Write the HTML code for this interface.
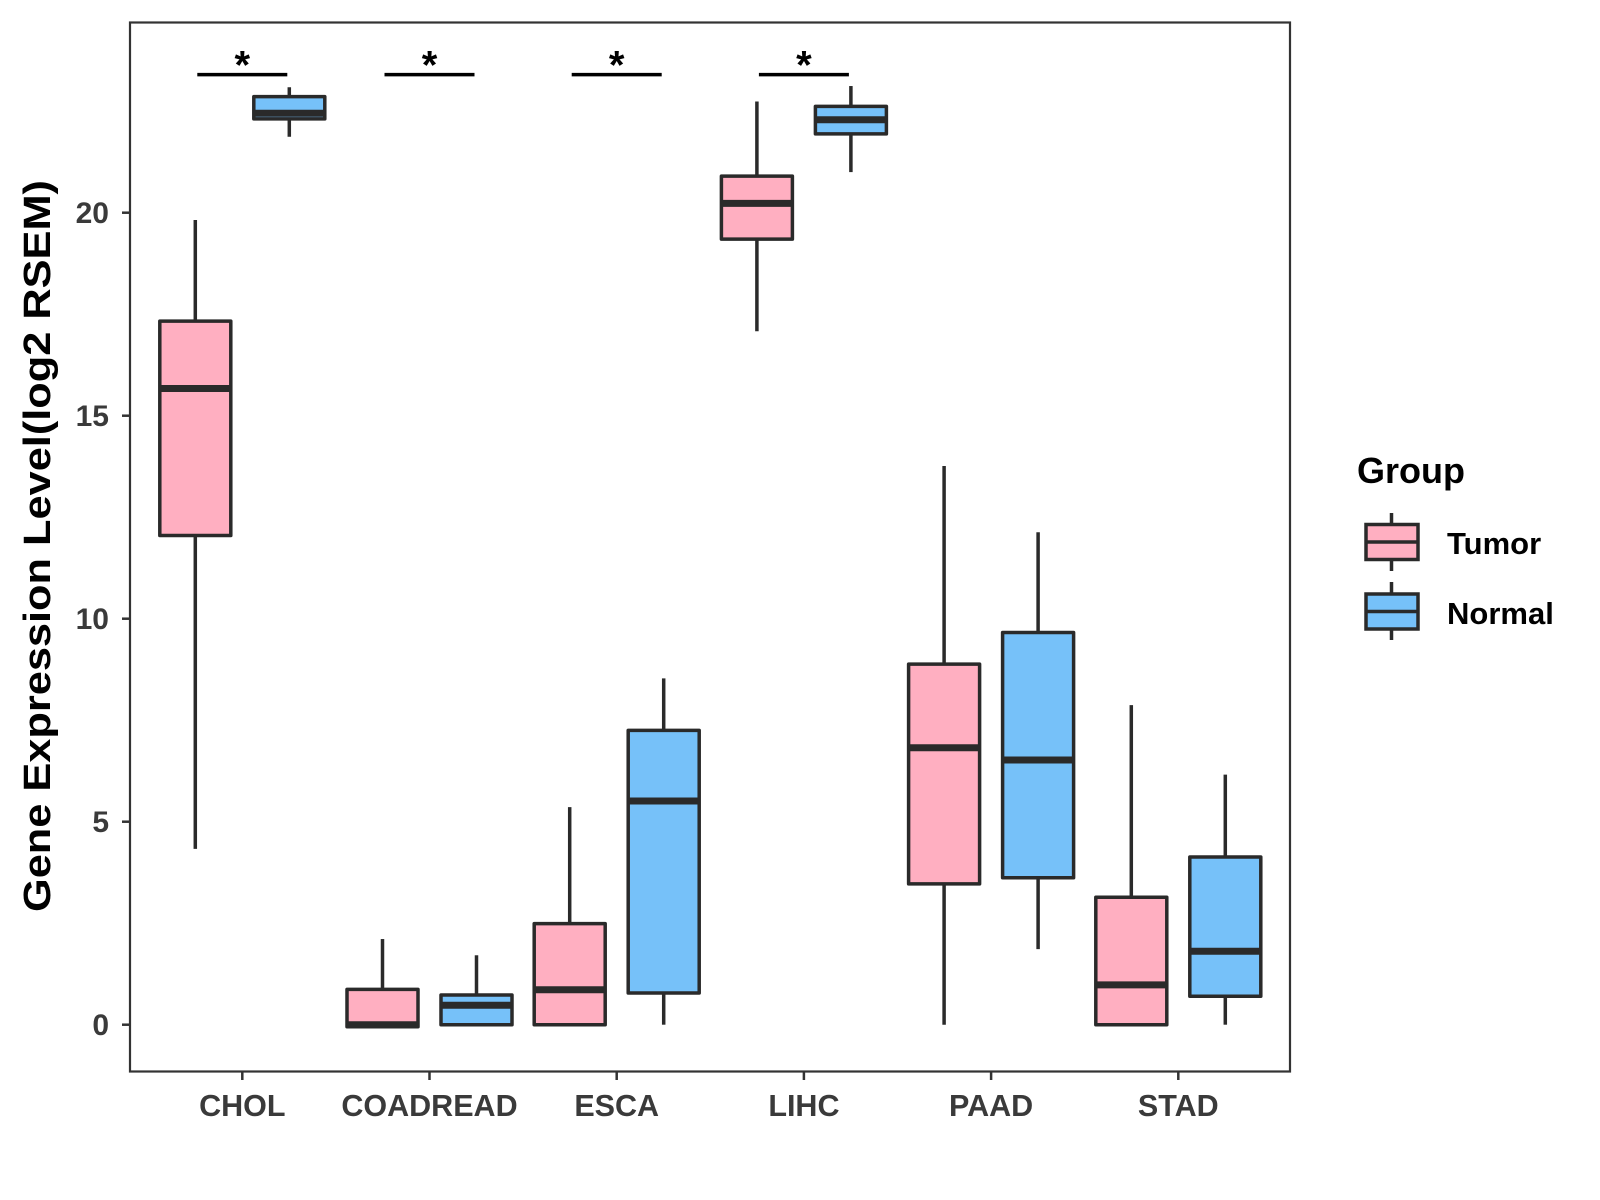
<!DOCTYPE html>
<html><head><meta charset="utf-8"><style>
html,body{margin:0;padding:0;background:#fff;}
svg{display:block;font-family:"Liberation Sans",Arial,sans-serif;}
</style></head><body>
<svg id="chart" width="1600" height="1200" viewBox="0 0 1600 1200" xmlns="http://www.w3.org/2000/svg">
<rect x="0" y="0" width="1600" height="1200" fill="#fff"/>
<g id="plot"></g>
<rect x="130" y="22.5" width="1160" height="1049" fill="none" stroke="#333" stroke-width="2.2"/>
<text transform="translate(50,546) rotate(-90)" text-anchor="middle" font-size="38" font-weight="bold" fill="#000" textLength="732" lengthAdjust="spacingAndGlyphs">Gene Expression Level(log2 RSEM)</text>
<g>
<text x="1357" y="483" font-size="36" font-weight="bold" fill="#000">Group</text>
<g>
<line x1="1391.5" y1="513" x2="1391.5" y2="571" stroke="#2a2a2a" stroke-width="3.5"/>
<rect x="1366" y="524.5" width="52" height="35" fill="#FFAFC1" stroke="#2a2a2a" stroke-width="3.5"/>
<line x1="1366" y1="542" x2="1418" y2="542" stroke="#2a2a2a" stroke-width="3.5"/>
<text x="1447" y="554" font-size="31" font-weight="bold" fill="#000">Tumor</text>
</g>
<g>
<line x1="1391.5" y1="582" x2="1391.5" y2="640" stroke="#2a2a2a" stroke-width="3.5"/>
<rect x="1366" y="594" width="52" height="35" fill="#76C1F9" stroke="#2a2a2a" stroke-width="3.5"/>
<line x1="1366" y1="611.5" x2="1418" y2="611.5" stroke="#2a2a2a" stroke-width="3.5"/>
<text x="1447" y="624" font-size="31" font-weight="bold" fill="#000">Normal</text>
</g>
</g>
</svg>
<script>
const categories = ["CHOL","COADREAD","ESCA","LIHC","PAAD","STAD"];
// [low whisker, Q1, median, Q3, high whisker]
const tumorStats = [
  [4.33,12.05,15.67,17.33,19.82],
  [-0.05,-0.05,0.0,0.87,2.11],
  [0,0,0.86,2.49,5.36],
  [17.08,19.35,20.23,20.9,22.74],
  [0,3.47,6.82,8.88,13.76],
  [0,0,0.98,3.14,7.87]
];
const normalStats = [
  [21.87,22.31,22.45,22.86,23.09],
  [0,0,0.48,0.73,1.71],
  [0,0.78,5.51,7.25,8.53],
  [21.0,21.94,22.29,22.62,23.12],
  [1.86,3.62,6.52,9.66,12.13],
  [0,0.70,1.81,4.13,6.16]
];
const yTicks = [0,5,10,15,20];
const significant = ["CHOL","COADREAD","ESCA","LIHC"];
const sigLabel = "*";
const sigY = 23.4;

const NS="http://www.w3.org/2000/svg";
const plot=document.getElementById('plot');
function yS(v){return 1024.7-v*40.6;}
function xS(i){return 242.3+i*187.2;}
const dodge=47, bw=71;
function mk(tag,attrs,parent){const e=document.createElementNS(NS,tag);for(const k in attrs)e.setAttribute(k,attrs[k]);(parent||plot).appendChild(e);return e;}

yTicks.forEach(t=>{
  const g=mk('g',{});
  
  
  mk('line',{x1:122,x2:130,y1:yS(t),y2:yS(t),stroke:'#333','stroke-width':2.5},g);
  const tx=mk('text',{x:109,y:yS(t)+10.5,'text-anchor':'end','font-size':30,'font-weight':'bold',fill:'#3a3a3a'},g);
  tx.textContent=t;
});
categories.forEach((c,i)=>{
  const g=mk('g',{});
  
  
  mk('line',{x1:xS(i),x2:xS(i),y1:1071.5,y2:1080,stroke:'#333','stroke-width':2.5},g);
  const tx=mk('text',{x:xS(i),y:1116,'text-anchor':'middle','font-size':30.5,'font-weight':'bold',fill:'#3a3a3a'},g);
  tx.textContent=c;
});
function drawBox(s,cx,fill,name){
  const g=mk('g',{});
  
  
  mk('line',{x1:cx,x2:cx,y1:yS(s[4]),y2:yS(s[3]),stroke:'#2a2a2a','stroke-width':3.5},g);
  mk('line',{x1:cx,x2:cx,y1:yS(s[1]),y2:yS(s[0]),stroke:'#2a2a2a','stroke-width':3.5},g);
  mk('rect',{x:cx-bw/2,y:yS(s[3]),width:bw,height:Math.max(0.5,yS(s[1])-yS(s[3])),fill:fill,stroke:'#2a2a2a','stroke-width':3.5,'stroke-linejoin':'round'},g);
  mk('line',{x1:cx-bw/2,x2:cx+bw/2,y1:yS(s[2]),y2:yS(s[2]),stroke:'#2a2a2a','stroke-width':7},g);
}
categories.forEach((c,i)=>{
  drawBox(tumorStats[i],xS(i)-dodge,'#FFAFC1','box-'+c.toLowerCase()+'-tumor');
  drawBox(normalStats[i],xS(i)+dodge,'#76C1F9','box-'+c.toLowerCase()+'-normal');
});
significant.forEach(c=>{
  const i=categories.indexOf(c);
  const g=mk('g',{});
  
  
  mk('line',{x1:xS(i)-45,x2:xS(i)+45,y1:yS(sigY),y2:yS(sigY),stroke:'#000','stroke-width':3.5},g);
  const tx=mk('text',{x:xS(i),y:yS(sigY)+4,'text-anchor':'middle','font-size':40,'font-weight':'bold',fill:'#000'},g);
  tx.textContent=sigLabel;
});
</script>
</body></html>
